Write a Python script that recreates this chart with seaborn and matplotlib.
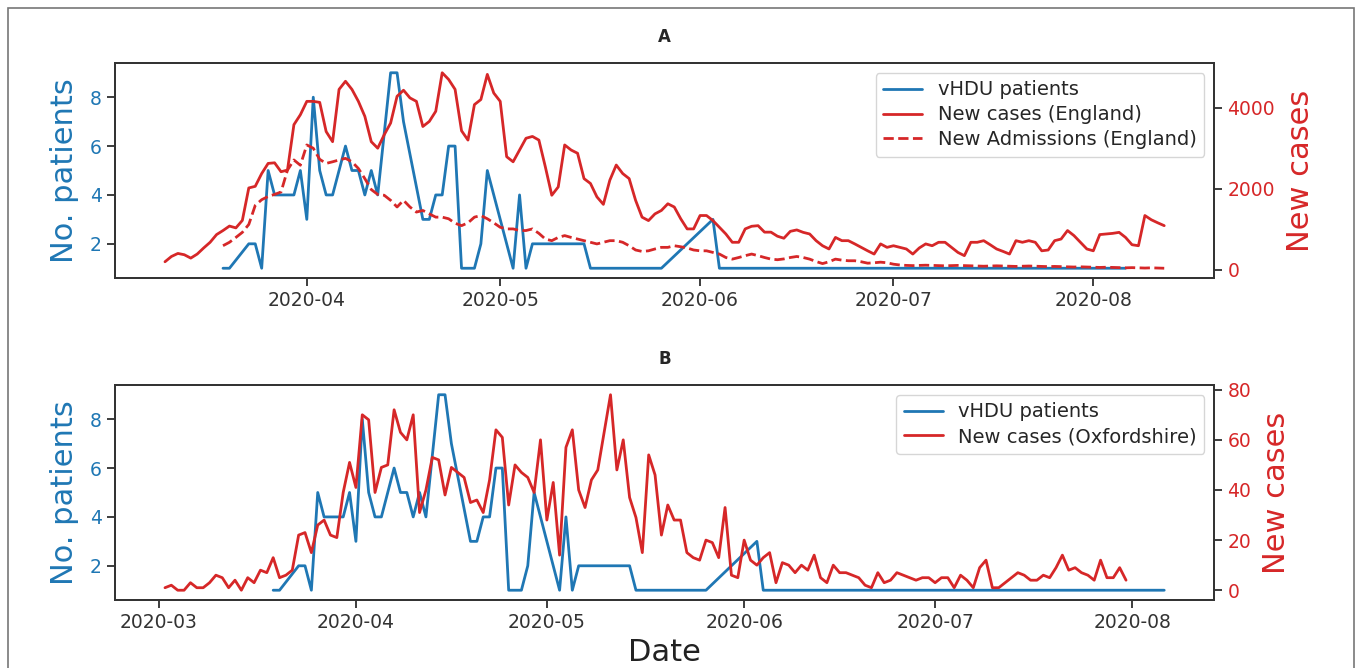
import matplotlib
matplotlib.use("Agg")
import matplotlib.pyplot as plt
import matplotlib.dates as mdates
import seaborn as sns
import pandas as pd
from matplotlib.patches import Rectangle

# vHDU patients (same series in both panels)
vhdu_dates = ["2020-03-19", "2020-03-20", "2020-03-23", "2020-03-24", "2020-03-25",
              "2020-03-26", "2020-03-27", "2020-03-30", "2020-03-31", "2020-04-01",
              "2020-04-02", "2020-04-03", "2020-04-04", "2020-04-05", "2020-04-07",
              "2020-04-08", "2020-04-09", "2020-04-10", "2020-04-11", "2020-04-12",
              "2020-04-14", "2020-04-15", "2020-04-16", "2020-04-19", "2020-04-20",
              "2020-04-21", "2020-04-22", "2020-04-23", "2020-04-24", "2020-04-25",
              "2020-04-27", "2020-04-28", "2020-04-29", "2020-05-03", "2020-05-04",
              "2020-05-05", "2020-05-06", "2020-05-14", "2020-05-15", "2020-05-26",
              "2020-06-03", "2020-06-04", "2020-08-06"]
vhdu_patients = [1, 1, 2, 2, 1, 5, 4, 4, 5, 3, 8, 5, 4, 4, 6, 5, 5, 4, 5, 4,
                 9, 9, 7, 3, 3, 4, 4, 6, 6, 1, 1, 2, 5, 1, 4, 1, 2, 2, 1, 1,
                 3, 1, 1]

# daily new cases, England, from 2020-03-10
england_start = "2020-03-10"
england_cases = [200, 330, 405, 373, 290, 390, 540, 680, 870, 970, 1080, 1035, 1220,
                 2020, 2060, 2375, 2625, 2640, 2420, 2460, 3580, 3825,
                 4155, 4155, 4130, 3410, 3160, 4450, 4650, 4450, 4155, 3785, 3160, 3000,
                 3330, 3620, 4280, 4430, 4240, 4155, 3535, 3660, 3910, 4860, 4695, 4450,
                 3430, 3200,
                 4075, 4200, 4820, 4360, 4155, 2790, 2665, 2955, 3245, 3290, 3200, 2540,
                 1840, 2045, 3080, 2955, 2875, 2250, 2130, 1800, 1615, 2210, 2585, 2375,
                 2250, 1715, 1300, 1215, 1380, 1465, 1630, 1550, 1260, 1010, 1010, 1340,
                 1340, 1215, 1050, 885, 680, 680, 1010, 1075, 1090, 930, 930, 830,
                 780, 950, 985, 925, 885, 720, 595, 515, 800, 720, 720, 640, 555, 470,
                 390, 640, 555, 595, 555, 515, 390, 540, 640, 595, 680, 680, 555, 430,
                 350, 680, 680, 720, 620, 515, 455, 390, 720, 680, 720, 680, 470, 490,
                 720, 760, 970, 845, 680, 515, 470, 870, 885, 900, 925, 800, 620, 595,
                 1340, 1235, 1160, 1090]

# daily new hospital admissions, England, from 2020-03-19
admissions_start = "2020-03-19"
england_admissions = [596, 680, 800, 925, 1120, 1590, 1730, 1810, 1860, 1920, 2460, 2710,
                      2580, 3080, 3000, 2725, 2625, 2665, 2710, 2750, 2665, 2500, 2250,
                      1980, 1860, 1840, 1715, 1550, 1715, 1550, 1425, 1465, 1380, 1300,
                      1300, 1260, 1150, 1090, 1160,
                      1300, 1340, 1260, 1160, 1050, 1010, 1010, 970, 970, 1010, 900, 760,
                      720, 800, 845, 800, 760, 720, 680, 640, 680, 720, 720, 680, 595,
                      490, 455, 470, 515, 555, 555, 595, 570, 540, 490, 470, 470, 430,
                      390, 305, 265, 305, 350, 390, 350, 305, 265, 250,
                      270, 305, 330, 305, 265, 205, 155, 200, 265, 240, 225, 225, 200,
                      165, 175, 190, 175, 140,
                      120, 110, 105, 110, 115, 110, 105, 100, 105, 110, 105, 100, 95, 90,
                      95, 100, 95, 90, 85, 90, 95, 90, 85, 80, 85, 80, 75, 70, 75, 70,
                      65, 60, 65, 60, 55, 50, 55, 50, 45, 50, 45, 40]

# daily new cases, Oxfordshire, from 2020-03-02
oxford_start = "2020-03-02"
oxford_cases = [1, 2, 0, 0, 3, 1, 1, 3, 6, 5, 1, 4, 0, 5, 3, 8, 7, 13, 5, 6, 8, 22, 23,
                15, 26, 28, 22, 21, 39, 51, 41, 70, 68, 39, 49, 50, 72, 63, 60, 70, 31,
                40, 53, 52, 38, 49, 47, 45, 35,
                36, 31, 44, 64, 61, 34, 50, 47, 45, 39, 60, 28, 43, 14, 57, 64, 40, 33,
                44, 48, 63, 78, 48, 60, 37, 29, 15, 54, 46, 22, 34, 28, 28, 15, 13, 12,
                20, 19, 13, 33, 6, 5, 20, 12, 10, 13, 15, 3,
                11, 10, 7, 10, 8, 14, 5, 3, 10, 7, 7, 6, 5, 2, 1, 7, 3, 4, 7, 6, 5, 4,
                5, 5, 3, 5, 5, 1, 6, 4, 1, 9, 12, 1, 1, 3, 5, 7, 6, 4, 4, 6, 5, 9, 14,
                8, 9, 7, 6, 4, 12, 5, 5, 9, 4]

BLUE = "#1f77b4"
RED = "#d62728"

sns.set_theme(style="ticks")
plt.rcParams["font.family"] = ["DejaVu Sans"]
plt.rcParams["axes.edgecolor"] = "#333333"
plt.rcParams["axes.linewidth"] = 1.3

vhdu = pd.DataFrame({"date": pd.to_datetime(vhdu_dates), "n": vhdu_patients})
eng = pd.DataFrame({"date": pd.date_range(england_start, periods=len(england_cases)),
                    "n": england_cases})
adm = pd.DataFrame({"date": pd.date_range(admissions_start, periods=len(england_admissions)),
                    "n": england_admissions})
oxf = pd.DataFrame({"date": pd.date_range(oxford_start, periods=len(oxford_cases)),
                    "n": oxford_cases})

fig = plt.figure(figsize=(13.58, 6.68), dpi=100)
axA = fig.add_axes([0.0847, 0.5838, 0.8094, 0.3219])
axB = fig.add_axes([0.0847, 0.1018, 0.8094, 0.3219])


def panel(ax, title, red_sets, labels):
    sns.lineplot(data=vhdu, x="date", y="n", ax=ax, color=BLUE, lw=2, legend=False)
    ax2 = ax.twinx()
    for df, ls in red_sets:
        sns.lineplot(data=df, x="date", y="n", ax=ax2, color=RED, lw=2,
                     linestyle=ls, legend=False)
    ax.set_title(title, fontweight="bold", fontsize=12, pad=15)
    ax.set_ylabel("No. patients", color=BLUE, fontsize=22, labelpad=8)
    ax2.set_ylabel("New cases", color=RED, fontsize=22, labelpad=8)
    ax.set_xlabel("")
    ax.set_yticks([2, 4, 6, 8])
    ax.tick_params(axis="y", labelcolor=BLUE, labelsize=13.5)
    ax2.tick_params(axis="y", labelcolor=RED, labelsize=13.5)
    ax.tick_params(axis="x", labelsize=13.5, labelcolor="#333333")
    ax.xaxis.set_major_locator(mdates.MonthLocator())
    ax.xaxis.set_major_formatter(mdates.DateFormatter("%Y-%m"))
    handles = ax.get_lines() + ax2.get_lines()
    ax2.legend(handles, labels, loc="upper right", fontsize=14,
               handlelength=2.0, borderpad=0.4, labelspacing=0.3)
    for a in (ax, ax2):
        for s in a.spines.values():
            s.set_visible(True)
            s.set_color("#333333")
    return ax2


panel(axA, "A", [(eng, "-"), (adm, "--")],
      ["vHDU patients", "New cases (England)", "New Admissions (England)"])
panel(axB, "B", [(oxf, "-")],
      ["vHDU patients", "New cases (Oxfordshire)"])
axB.set_xlabel("Date", fontsize=22, labelpad=4, color="#222222")

fig.patches.append(Rectangle((0.006, -0.05), 0.991, 1.038, transform=fig.transFigure,
                             fill=False, edgecolor="#777777", lw=1.2))

fig.savefig("out.png", dpi=100)
